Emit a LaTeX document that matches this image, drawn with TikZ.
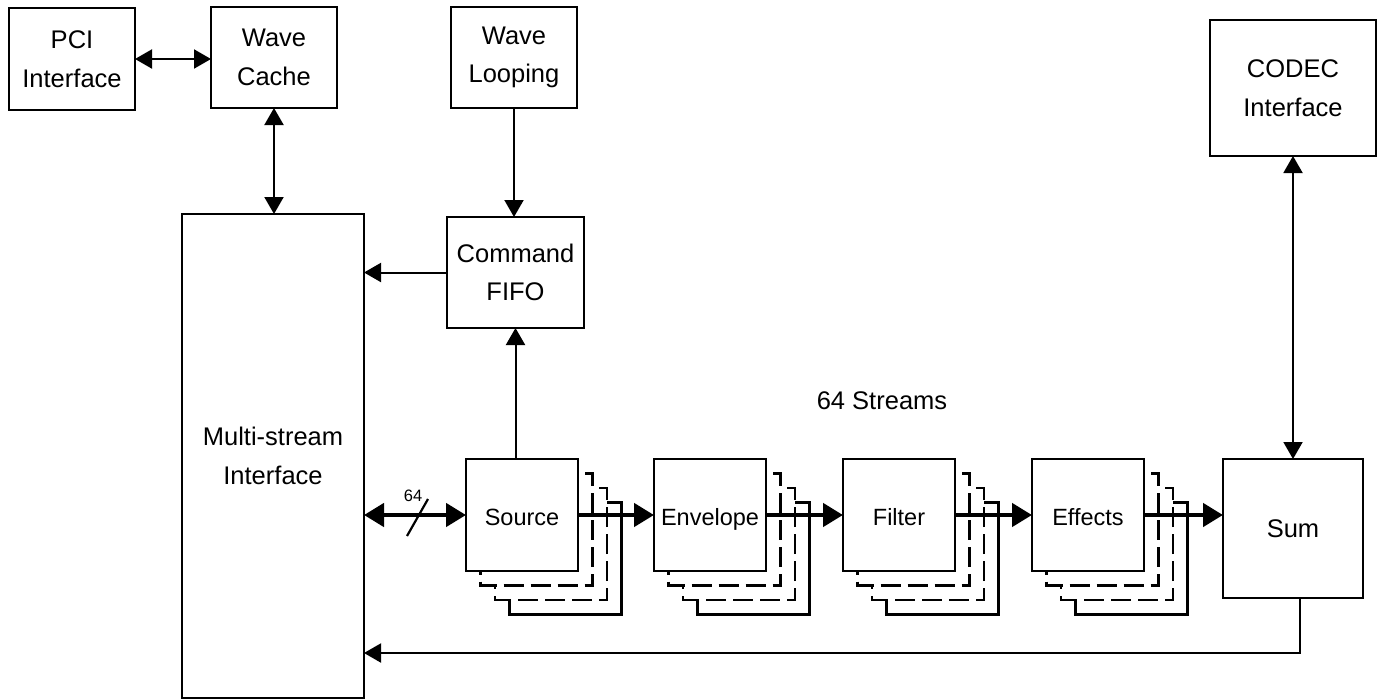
\documentclass[tikz,border=0pt]{standalone}
\usepackage{fontspec}
\setmainfont{Liberation Sans}
\usetikzlibrary{arrows.meta,calc}
\tikzset{
  box/.style={draw, line width=2.2pt, fill=white, inner sep=0pt, outer sep=0pt, align=center,
    font=\fontsize{25.5}{38.5}\selectfont},
  pipe/.style={box, minimum width=112pt, minimum height=112pt, text height=22pt, text depth=2pt,
    font=\fontsize{23.5}{30}\selectfont},
  copyline/.style={line width=2.2pt, fill=white},
  copydash/.style={dash pattern=on 20pt off 7pt},
  thinarrow/.style={line width=2pt, -{Triangle[length=17pt,width=19pt]}},
  thinboth/.style={line width=2pt, {Triangle[length=17pt,width=19pt]}-{Triangle[length=17pt,width=19pt]}},
  thickarrow/.style={line width=4.5pt, -{Triangle[length=20pt,width=23pt]}},
  thickboth/.style={line width=4.5pt, {Triangle[length=20pt,width=23pt]}-{Triangle[length=20pt,width=23pt]}},
}
\begin{document}
\begin{tikzpicture}[x=1pt,y=-1pt]
\useasboundingbox (0,0) rectangle (1379,699);
% top boxes
\node[box, minimum width=126pt, minimum height=102pt] (pci) at (72,59) {PCI\\Interface};
\node[box, minimum width=126pt, minimum height=101pt] (cache) at (274,57.5) {Wave\\Cache};
\node[box, minimum width=126pt, minimum height=101pt] (loop) at (514,57.5) {Wave\\Looping};
\node[box, minimum width=137pt, minimum height=111pt] (cmd) at (515.5,272.5) {Command\\FIFO};
\node[box, minimum width=182pt, minimum height=484pt] (mult) at (273,456) {Multi-stream\\Interface};
\node[box, minimum width=166pt, minimum height=136pt] (codec) at (1293,88) {CODEC\\Interface};
\node[box, minimum width=140pt, minimum height=139pt] (sum) at (1293,528.5) {Sum};
% pipeline with stacked copies
\foreach \n/\xl/\t in {src/466/Source, env/654/Envelope, fil/843/Filter, eff/1032/Effects} {
  \foreach \k/\st in {3/solid, 2/copydash, 1/copydash} {
    \draw[copyline, \st] ({\xl+14.5*\k}, {459+14.5*\k}) rectangle ++(112,112);
  }
  \node[pipe, anchor=north west] (\n) at (\xl,459) {\t};
}
\node[font=\fontsize{25.5}{30}\selectfont] (streams) at (882,401) {64 Streams};
% connectors
\draw[thinboth] (pci.east) -- (pci.east -| cache.west);
\draw[thinboth] (cache.south) -- (cache.south |- mult.north);
\draw[thinarrow] (loop.south) -- (loop.south |- cmd.north);
\draw[thinarrow] (cmd.west) -- (cmd.west -| mult.east);
\draw[thinarrow] (cmd.south |- src.north) -- (cmd.south);
\draw[thinboth] (codec.south) -- (sum.north);
\coordinate (fb) at ([xshift=7pt]sum.south);
\coordinate (fbc) at (1300,653);
\draw[thinarrow] (fb) -- (fbc) -- (fbc -| mult.east);
\draw[thickboth] (src.west -| mult.east) -- (src.west);
\draw[thickarrow] (src.east) -- (env.west);
\draw[thickarrow] (env.east) -- (fil.west);
\draw[thickarrow] (fil.east) -- (eff.west);
\draw[thickarrow] (eff.east) -- (eff.east -| sum.west);
% bus width mark
\coordinate (s1) at (407,536);
\coordinate (s2) at (428,499);
\draw[line width=2.2pt] (s1) -- (s2);
\node[font=\fontsize{16.5}{18}\selectfont] (w64) at (413,496) {64};
\end{tikzpicture}
\end{document}
